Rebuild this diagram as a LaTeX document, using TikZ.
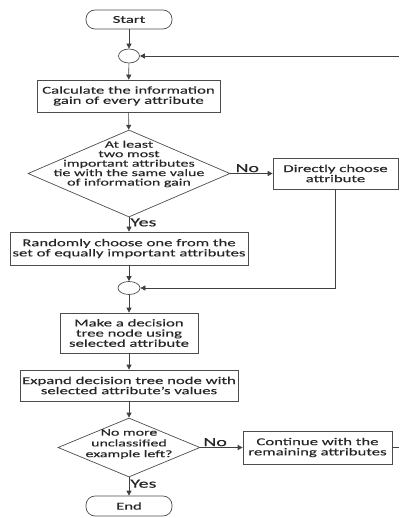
\documentclass[tikz,border=0pt]{standalone}
\usepackage{fontspec}
\setmainfont[FakeStretch=1.6,FakeBold=0.3]{Carlito}
\usetikzlibrary{shapes.geometric,arrows.meta}

\tikzset{
  flow/.style={draw=black!75, line width=0.7bp, -{Triangle[length=5bp,width=5bp]}},
  line/.style={draw=black!75, line width=0.7bp},
  proc/.style={rectangle, draw=black!70, line width=0.7bp, inner sep=0pt, align=center,
    text=black!85, font=\fontsize{10.5}{10.2}\selectfont},
  term/.style={proc, rounded corners=9bp, minimum width=86bp, minimum height=19bp},
  joint/.style={ellipse, draw=black!70, line width=0.7bp, inner sep=0pt,
    minimum width=21bp, minimum height=14bp},
  decide/.style={diamond, draw=black!70, line width=0.7bp, inner sep=0pt},
  dtext/.style={align=center, inner sep=0pt, text=black!85, font=\fontsize{10}{9.5}\selectfont},
  answer/.style={text=black!85, font=\fontsize{12.5}{12}\selectfont, inner sep=1bp}
}

\begin{document}
\begin{tikzpicture}[x=1bp,y=-1bp]
  \useasboundingbox (0,0) rectangle (399,518);

  \node[term] (start) at (129,19.5) {Start};
  \node[joint] (c1) at (129,56) {};
  \coordinate (back) at (399,56);
  \node[proc, minimum width=183bp, minimum height=32bp] (calc) at (128.5,96)
    {Calculate the information\\gain of every attribute};
  \node[decide, minimum width=202bp, minimum height=87bp] (d1) at (129,173.5) {};
  \node[dtext] (d1t) at (129,164)
    {At least\\two most\\important attributes\\tie with the same value\\of information gain};
  \node[proc, minimum width=125bp, minimum height=31bp] (direct) at (335.5,173.5)
    {Directly choose\\attribute};
  \node[proc, minimum width=238bp, minimum height=33bp] (rand) at (129,248.5)
    {Randomly choose one from the\\set of equally important attributes};
  \node[joint, minimum width=22bp, minimum height=13bp] (c2) at (129,288) {};
  \node[proc, minimum width=138bp, minimum height=40bp] (make) at (129,333)
    {Make a decision\\tree node using\\selected attribute};
  \node[proc, minimum width=218bp, minimum height=31bp] (expand) at (129,385.5)
    {Expand decision tree node with\\selected attribute's values};
  \node[decide, minimum width=142bp, minimum height=59bp] (d2) at (129,447.5) {};
  \node[dtext, font=\fontsize{10}{10.8}\selectfont] (d2t) at (129,444)
    {No more\\unclassified\\example left?};
  \node[proc, minimum width=149bp, minimum height=33bp] (cont) at (317.5,447.5)
    {Continue with the\\remaining attributes};
  \coordinate (out) at (399,447.5);
  \node[term, minimum height=20bp] (end) at (129,506) {End};

  \draw[flow] (start) -- (c1);
  \draw[flow] (back) -- (c1);
  \draw[flow] (c1) -- (calc);
  \draw[flow] (calc) -- (d1);
  \draw[flow] (d1.east) -- node[answer, above, pos=0.4] {No} (direct.west);
  \draw[flow] (d1.south) -- node[answer, right, pos=0.35] {Yes} (rand.north);
  \draw[flow] (direct.south) |- (c2.east);
  \draw[flow] (rand) -- (c2);
  \draw[flow] (c2) -- (make);
  \draw[flow] (make) -- (expand);
  \draw[flow] (expand) -- (d2);
  \draw[flow] (d2.east) -- node[answer, above, pos=0.35] {No} (cont.west);
  \draw[line] (cont.east) -- (out);
  \draw[flow] (d2.south) -- node[answer, right, pos=0.35] {Yes} (end.north);
\end{tikzpicture}
\end{document}
